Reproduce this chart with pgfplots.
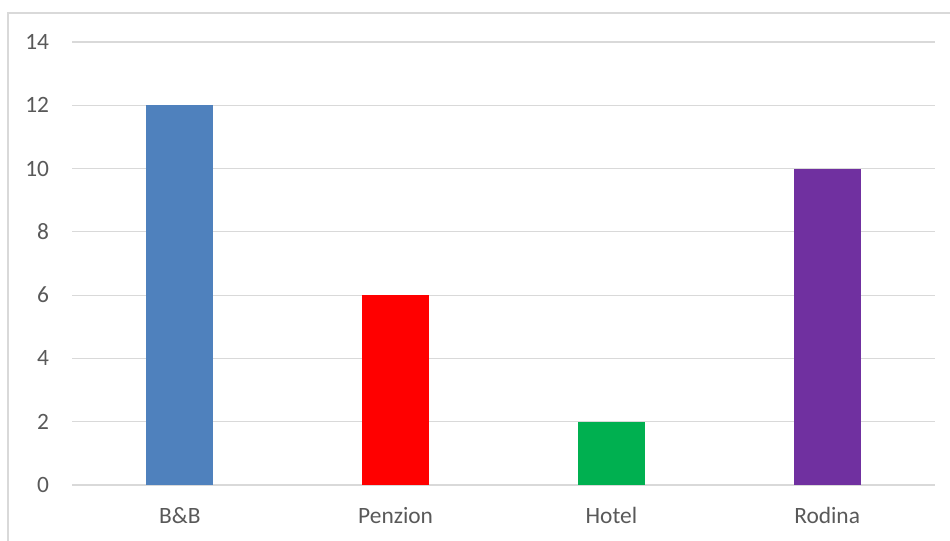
\documentclass[border=0pt]{standalone}
\usepackage{pgfplots}
\pgfplotsset{compat=1.18}
\usepackage{fontspec}
\setmainfont{Carlito}
\definecolor{gridc}{HTML}{D9D9D9}
\definecolor{txtc}{HTML}{595959}
\definecolor{cblue}{HTML}{4F81BD}
\definecolor{cred}{HTML}{FF0000}
\definecolor{cgreen}{HTML}{00B050}
\definecolor{cpurple}{HTML}{7030A0}
\begin{document}
\begin{tikzpicture}
\useasboundingbox (0,0) rectangle (950bp,541bp);
\draw[gridc, line width=1.2bp] (8bp,0) -- (8bp,528bp) -- (950bp,528bp);
\begin{axis}[
  at={(72bp,56bp)}, anchor=south west,
  scale only axis, width=863bp, height=443bp,
  ybar, bar width=67bp, bar shift=0pt,
  xmin=-0.5, xmax=3.5, ymin=0, ymax=14,
  xtick={0,1,2,3}, xticklabels={B\&B,Penzion,Hotel,Rodina},
  ytick={0,2,...,14},
  ymajorgrids, grid style={gridc, line width=1.2bp},
  axis line style={draw=none},
  major tick length=0pt,
  /pgf/number format/assume math mode=true,
  tick label style={font=\fontsize{23.4bp}{26bp}\selectfont, text=txtc},
  yticklabel style={xshift=-19.5bp},
  xticklabel style={yshift=-19bp},
]
\addplot[fill=cblue, draw=none] coordinates {(0,12)};
\addplot[fill=cred, draw=none] coordinates {(1,6)};
\addplot[fill=cgreen, draw=none] coordinates {(2,2)};
\addplot[fill=cpurple, draw=none] coordinates {(3,10)};
\end{axis}
\end{tikzpicture}
\end{document}
